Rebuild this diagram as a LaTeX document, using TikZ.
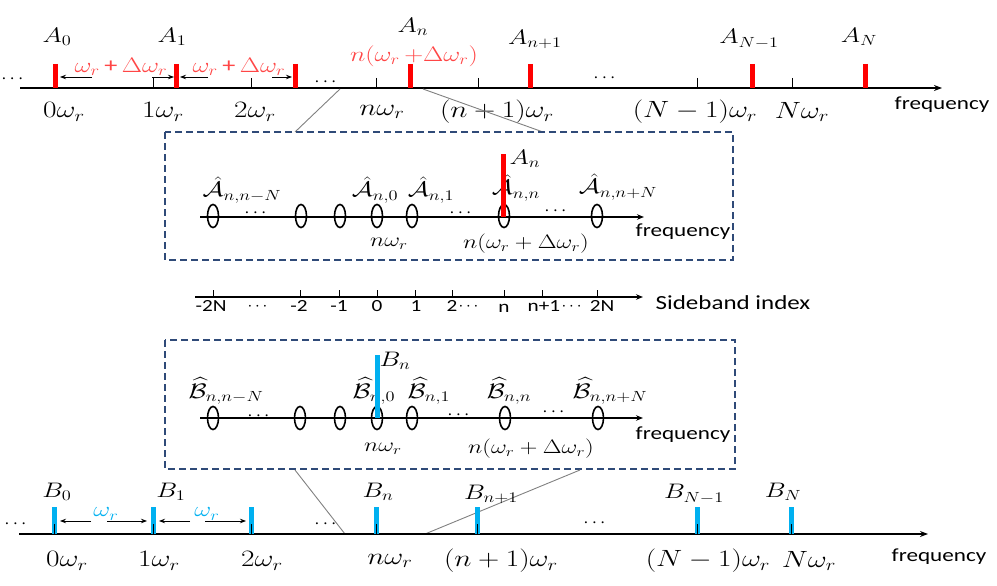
\RequirePackage{fix-cm}
\documentclass[tikz,border=0pt]{standalone}
\usepackage[no-math]{fontspec}
\setmainfont{Carlito}
\usepackage{amsmath}
\usetikzlibrary{arrows.meta,shapes.geometric}
\definecolor{barred}{HTML}{FF0000}
\definecolor{labred}{HTML}{FF4646}
\definecolor{barblue}{HTML}{00B0F0}
\definecolor{navy}{HTML}{2F4A78}
\begin{document}
\begin{tikzpicture}[x=1pt,y=1pt,
  tx/.style={inner sep=0pt,outer sep=0pt,xscale=1.25},
  alab/.style={tx,font=\fontsize{21}{25}\selectfont},
  blab/.style={tx,font=\fontsize{19.5}{23}\selectfont},
  axl/.style={tx,font=\fontsize{23.5}{27}\selectfont},
  frq/.style={tx,font=\fontsize{18.5}{22}\selectfont},
  sbl/.style={tx,font=\fontsize{17}{20}\selectfont},
  dots/.style={inner sep=0pt,outer sep=0pt,anchor=base,font=\fontsize{19}{22}\selectfont},
  redbar/.style={draw=barred,line width=5pt},
  bluebar/.style={draw=barblue,line width=5pt},
  axisline/.style={line width=1.8pt,-{Stealth[length=8pt,width=6pt]}},
  boxaxis/.style={line width=1.5pt,-{Stealth[length=7pt,width=5.5pt]}},
  tickline/.style={line width=1pt},
  ell/.style={draw,line width=1.6pt,ellipse,inner sep=0pt,minimum width=11pt,minimum height=23pt},
  zoomline/.style={draw=gray,line width=0.9pt},
  dbox/.style={draw=navy,line width=1.5pt,dash pattern=on 7pt off 4pt},
  sparrow/.style={line width=0.9pt,-{Stealth[length=6pt,width=4.5pt]}}
]
\useasboundingbox (0,0) rectangle (997,-586);

% ================= top axis =================
\coordinate (ta0) at (20,-88); \coordinate (ta1) at (942,-88);
\draw[axisline] (ta0) -- (ta1);
\foreach \x in {153,251,376,478,697,792} \draw[tickline] (\x,-78) -- (\x,-88);
\foreach \x in {55,176,295,410,530,752,865} \draw[redbar] (\x,-64) -- (\x,-88);

\node[alab] (A0) at (57,-37) {$A_0$};
\node[alab] (A1) at (172,-37) {$A_1$};
\node[alab] (An) at (413,-27) {$A_n$};
\node[alab] (An1) at (535,-39) {$A_{n+1}$};
\node[alab] (ANm1) at (749,-39) {$A_{N-1}$};
\node[alab] (AN) at (859,-37) {$A_N$};
\node[alab,text=labred] (nshift) at (414,-56) {$n(\omega_r\,{+}\Delta\omega_r)$};

\node[dots] (td1) at (14,-84) {$\cdots$};
\node[dots] (td2) at (327,-87) {$\cdots$};
\node[dots] (td3) at (606,-83) {$\cdots$};

\coordinate (sa1) at (92,-77); \coordinate (sa1e) at (60,-77);
\coordinate (sa2) at (152,-77); \coordinate (sa2e) at (174,-77);
\coordinate (sa3) at (208,-77); \coordinate (sa3e) at (180,-77);
\coordinate (sa4) at (272,-77); \coordinate (sa4e) at (292,-77);
\draw[sparrow] (sa1) -- (sa1e);
\draw[sparrow] (sa2) -- (sa2e);
\draw[sparrow] (sa3) -- (sa3e);
\draw[sparrow] (sa4) -- (sa4e);
\node[alab,text=labred] (sp1) at (121,-67) {$\omega_r$\,+\,$\Delta\omega_r$};
\node[alab,text=labred] (sp2) at (239,-67) {$\omega_r$\,+\,$\Delta\omega_r$};

\node[axl] (t0) at (64,-112) {$0\omega_r$};
\node[axl] (t1) at (163,-112) {$1\omega_r$};
\node[axl] (t2) at (255,-112) {$2\omega_r$};
\node[axl] (tn) at (382,-112) {$n\omega_r$};
\node[axl] (tn1) at (497,-112) {$(n+1)\omega_r$};
\node[axl] (tNm1) at (695,-112) {$(N-1)\omega_r$};
\node[axl] (tN) at (802,-112) {$N\omega_r$};
\node[frq] (tf) at (942,-105) {frequency};

% zoom lines top
\coordinate (zt1) at (340,-89); \coordinate (zt1e) at (295,-132);
\coordinate (zt2) at (423,-89); \coordinate (zt2e) at (543,-132);
\draw[zoomline] (zt1) -- (zt1e);
\draw[zoomline] (zt2) -- (zt2e);

% ================= box 1 =================
\draw[dbox] (165,-132) rectangle (733,-260);
\coordinate (b1a0) at (200,-217); \coordinate (b1a1) at (644,-217);
\draw[boxaxis] (b1a0) -- (b1a1);
\foreach \x/\n in {213/a,301/b,340/c,377/d,412/e,504/f,597/g}
  \node[ell] (e1\n) at (\x,-216) {};
\node[alab] (h1) at (242,-190) {$\hat{\mathcal{A}}_{n,n-N}$};
\node[alab] (h2) at (375,-190) {$\hat{\mathcal{A}}_{n,0}$};
\node[alab] (h3) at (431,-190) {$\hat{\mathcal{A}}_{n,1}$};
\node[alab] (h4) at (516,-188) {$\hat{\mathcal{A}}_{n,n}$};
\node[alab] (h5) at (618,-187) {$\hat{\mathcal{A}}_{n,n+N}$};
\node[alab] (h6) at (525,-159) {$A_n$};
\node[dots] (bd1) at (257,-217) {$\cdots$};
\node[dots] (bd2) at (462,-217) {$\cdots$};
\node[dots] (bd3) at (557,-215) {$\cdots$};
\node[blab] (b1n) at (389,-244) {$n\omega_r$};
\node[blab] (b1s) at (526,-244) {$n(\omega_r+\Delta\omega_r)$};
\node[frq] (b1f) at (683,-232) {frequency};
\draw[redbar] (503,-154) -- (503,-217);

% ================= sideband axis =================
\coordinate (sb0) at (195,-297); \coordinate (sb1) at (643,-297);
\draw[line width=1.3pt,-{Stealth[length=7pt,width=5.5pt]}] (sb0) -- (sb1);
\foreach \x in {213,300,339,377,415,452,504,542,597} \draw[tickline] (\x,-290) -- (\x,-297);
\node[sbl] (s1) at (211,-306) {-2N};
\node[sbl] (s2) at (299,-306) {-2};
\node[sbl] (s3) at (339,-306) {-1};
\node[sbl] (s4) at (377,-306) {0};
\node[sbl] (s5) at (416,-306) {1};
\node[sbl] (s6) at (452,-306) {2};
\node[sbl] (s7) at (504,-308) {n};
\node[sbl] (s8) at (544,-306) {n+1};
\node[sbl] (s9) at (602,-306) {2N};
\node[dots,font=\fontsize{17}{20}\selectfont] (sd1) at (259,-310) {$\cdots$};
\node[dots,font=\fontsize{17}{20}\selectfont] (sd2) at (470,-310) {$\cdots$};
\node[dots,font=\fontsize{17}{20}\selectfont] (sd3) at (573,-310) {$\cdots$};
\node[tx,font=\fontsize{20}{24}\selectfont] (sbi) at (733,-303) {Sideband index};

% ================= box 2 =================
\draw[dbox] (165,-340) rectangle (735,-469);
\coordinate (b2a0) at (200,-418); \coordinate (b2a1) at (643,-418);
\draw[boxaxis] (b2a0) -- (b2a1);
\foreach \x/\n in {213/a,300/b,340/c,377/d,412/e,505/f,598/g}
  \node[ell] (e2\n) at (\x,-418) {};
\node[alab] (g1) at (226,-391) {$\widehat{\mathcal{B}}_{n,n-N}$};
\node[alab] (g2) at (374,-391) {$\widehat{\mathcal{B}}_{n,0}$};
\node[alab] (g3) at (429,-391) {$\widehat{\mathcal{B}}_{n,1}$};
\node[alab] (g4) at (509,-391) {$\widehat{\mathcal{B}}_{n,n}$};
\node[alab] (g5) at (610,-391) {$\widehat{\mathcal{B}}_{n,n+N}$};
\node[alab] (g6) at (395,-361) {$B_n$};
\node[dots] (cd1) at (260,-420) {$\cdots$};
\node[dots] (cd2) at (460,-419) {$\cdots$};
\node[dots] (cd3) at (555,-416) {$\cdots$};
\node[blab] (b2n) at (383,-449) {$n\omega_r$};
\node[blab] (b2s) at (531,-449) {$n(\omega_r+\Delta\omega_r)$};
\node[frq] (b2f) at (683,-435) {frequency};
\draw[bluebar] (377,-355) -- (377,-418);

% zoom lines bottom
\coordinate (zb1) at (295,-470); \coordinate (zb1e) at (345,-534);
\coordinate (zb2) at (580,-470); \coordinate (zb2e) at (425,-534);
\draw[zoomline] (zb1) -- (zb1e);
\draw[zoomline] (zb2) -- (zb2e);

% ================= bottom axis =================
\coordinate (ba0) at (19,-534); \coordinate (ba1) at (928,-534);
\draw[axisline] (ba0) -- (ba1);
\foreach \x in {54,153,251,376,477,697,791} {
  \draw[bluebar] (\x,-507) -- (\x,-534);
  \draw[tickline] (\x,-524) -- (\x,-534);
}
\node[alab] (B0) at (57,-492) {$B_0$};
\node[alab] (B1) at (171,-492) {$B_1$};
\node[alab] (Bn) at (378,-492) {$B_n$};
\node[alab] (Bn1) at (491,-494) {$B_{n+1}$};
\node[alab] (BNm1) at (694,-494) {$B_{N-1}$};
\node[alab] (BN) at (783,-492) {$B_N$};
\node[dots] (ud1) at (17,-528) {$\cdots$};
\node[dots] (ud2) at (327,-528) {$\cdots$};
\node[dots] (ud3) at (596,-527) {$\cdots$};

\coordinate (ua1) at (91,-521); \coordinate (ua1e) at (60,-521);
\coordinate (ua2) at (107,-521); \coordinate (ua2e) at (147,-521);
\coordinate (ua3) at (190,-521); \coordinate (ua3e) at (159,-521);
\coordinate (ua4) at (205,-521); \coordinate (ua4e) at (246,-521);
\draw[sparrow] (ua1) -- (ua1e);
\draw[sparrow] (ua2) -- (ua2e);
\draw[sparrow] (ua3) -- (ua3e);
\draw[sparrow] (ua4) -- (ua4e);
\node[alab,text=barblue] (w1) at (106,-514) {$\omega_r$};
\node[alab,text=barblue] (w2) at (207,-514) {$\omega_r$};

\node[axl] (u0) at (67,-561) {$0\omega_r$};
\node[axl] (u1) at (159,-561) {$1\omega_r$};
\node[axl] (u2) at (262,-561) {$2\omega_r$};
\node[axl] (un) at (390,-561) {$n\omega_r$};
\node[axl] (un1) at (501,-561) {$(n+1)\omega_r$};
\node[axl] (uNm1) at (708,-561) {$(N-1)\omega_r$};
\node[axl] (uN) at (809,-561) {$N\omega_r$};
\node[frq] (uf) at (939,-557) {frequency};
\end{tikzpicture}
\end{document}
